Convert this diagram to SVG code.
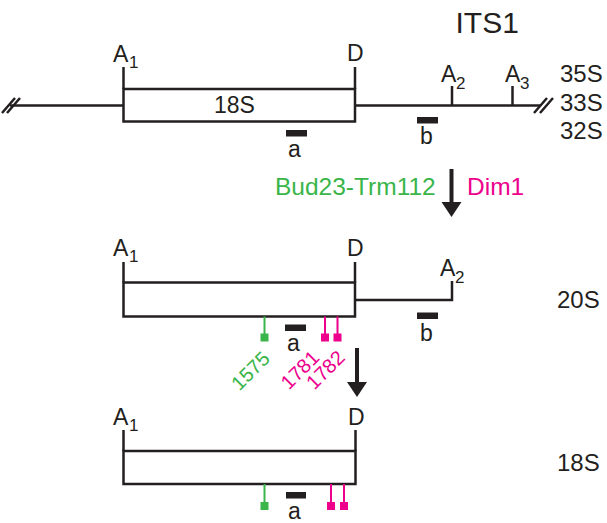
<svg xmlns="http://www.w3.org/2000/svg" width="607" height="523" viewBox="0 0 607 523">
<style>
text{font-family:"Liberation Sans",Arial,Helvetica,sans-serif;fill:#231f20}
.lbl{font-size:23px}
.rs{font-size:24px}
.sub{font-size:17px}
.big{font-size:30px}
.enz{font-size:24.5px}
.ln{stroke:#231f20;stroke-width:2.5;fill:none}
.box{stroke:#231f20;stroke-width:2.5;fill:#fff}
.bar{fill:#231f20}
.g{stroke:#39b54a;stroke-width:2;fill:none}
.m{stroke:#ec008c;stroke-width:2;fill:none}
.gs{fill:#39b54a}
.ms{fill:#ec008c}
.rot{font-size:20px}
.arr{stroke:#231f20;stroke-width:4;fill:none}
.ah{fill:#231f20}
</style>

<g id="title">
<text class="big" x="455.5" y="33">ITS1</text>
</g>

<g id="precursor-35S-33S-32S">
<path class="ln" d="M10 105.5H123.5M355 105.5H541"/>
<path class="ln" d="M2 113L15 98M7 113L20 98M534 113L547 98M540 113L553 98"/>
<path class="ln" d="M123.5 67V89M355 67V89M452 86V105.5M512.5 86V105.5"/>
<rect class="box" x="123.5" y="89" width="231.5" height="32.5"/>
<text class="lbl" x="214" y="113">18S</text>
<text class="lbl" x="113" y="62">A</text><text class="sub" x="129" y="68">1</text>
<text class="lbl" x="347" y="61">D</text>
<text class="lbl" x="441" y="82">A</text><text class="sub" x="456" y="89">2</text>
<text class="lbl" x="505" y="82">A</text><text class="sub" x="520" y="89">3</text>
<rect class="bar" x="286" y="130" width="21" height="6.5"/>
<text class="lbl" x="288" y="157">a</text>
<rect class="bar" x="417" y="117" width="21" height="6.5"/>
<text class="lbl" x="420" y="144">b</text>
<text class="rs" x="560" y="82">35S</text>
<text class="rs" x="560" y="111">33S</text>
<text class="rs" x="560" y="139">32S</text>
</g>

<g id="step1">
<text class="enz" x="275" y="195" style="fill:#39b54a">Bud23-Trm112</text>
<text class="enz" x="467" y="195" style="fill:#ec008c">Dim1</text>
</g>

<g id="pre-20S">
<path class="ln" d="M123.5 262V282.5M355 262V282.5M355 300H452V281"/>
<rect class="box" x="123.5" y="282.5" width="231.5" height="34"/>
<text class="lbl" x="113" y="256">A</text><text class="sub" x="129" y="262">1</text>
<text class="lbl" x="347" y="256">D</text>
<text class="lbl" x="440" y="276">A</text><text class="sub" x="455" y="283">2</text>
<rect class="bar" x="417" y="312.5" width="21" height="6.5"/>
<text class="lbl" x="420" y="341">b</text>
<rect class="bar" x="285" y="324.5" width="21" height="6.5"/>
<text class="lbl" x="287" y="351">a</text>
<text class="rs" x="557" y="308">20S</text>
<path class="g" d="M264.5 316.5V334"/>
<rect class="gs" x="260.5" y="333.5" width="8" height="8"/>
<path class="m" d="M325 316.5V334M337.5 316.5V334"/>
<rect class="ms" x="321" y="333.5" width="8" height="8"/>
<rect class="ms" x="333.5" y="333.5" width="8" height="8"/>
<text class="rot" text-anchor="end" transform="translate(271 360) rotate(-45)" style="fill:#39b54a">1575</text>
<text class="rot" text-anchor="end" transform="translate(320.5 359) rotate(-45)" style="fill:#ec008c">1781</text>
<text class="rot" text-anchor="end" transform="translate(346 359) rotate(-45)" style="fill:#ec008c">1782</text>
</g>

<g id="mature-18S">
<path class="ln" d="M123.5 430V451M355.5 430V451"/>
<rect class="box" x="123.5" y="451" width="232" height="33"/>
<text class="lbl" x="113" y="425">A</text><text class="sub" x="129" y="431">1</text>
<text class="lbl" x="348" y="425">D</text>
<text class="rs" x="557" y="471">18S</text>
<path class="g" d="M264.5 484V503"/>
<rect class="gs" x="260.5" y="502" width="8" height="8"/>
<rect class="bar" x="286" y="492" width="20" height="6.5"/>
<text class="lbl" x="288" y="519">a</text>
<path class="m" d="M331 484V503M344 484V503"/>
<rect class="ms" x="327" y="502" width="8" height="8"/>
<rect class="ms" x="340" y="502" width="8" height="8"/>
</g>

<g id="connectors">
<path class="arr" d="M451.5 169V204"/>
<path class="ah" d="M441.5 202H461.5L451.5 217Z"/>
<path class="arr" d="M357 348V384"/>
<path class="ah" d="M347 382H367L357 397Z"/>
</g>
</svg>
